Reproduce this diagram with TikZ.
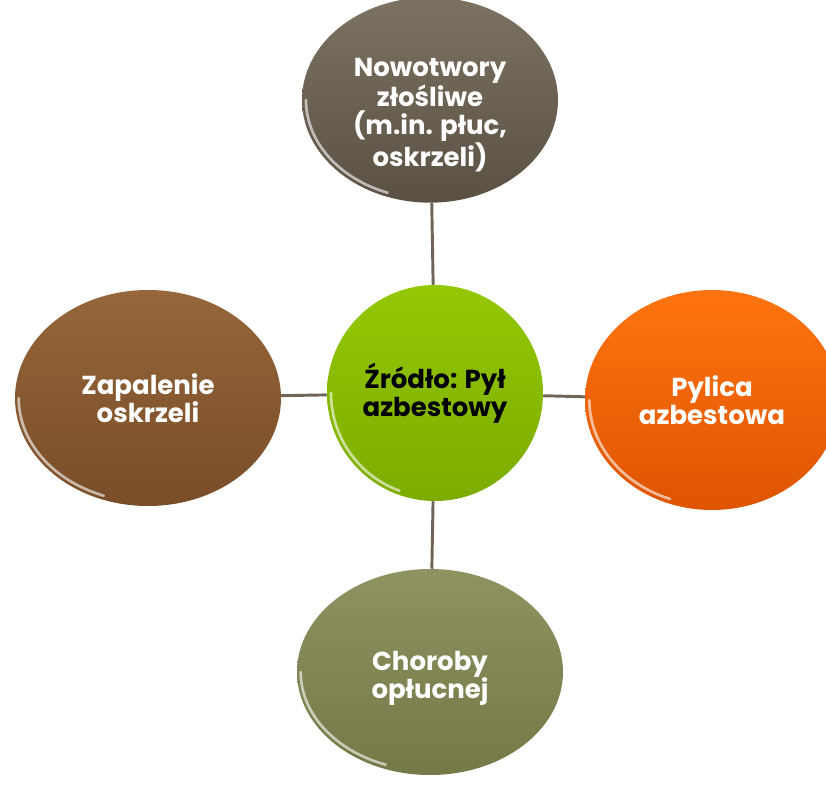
\documentclass[tikz,border=0pt]{standalone}
\usepackage{fontspec}
\setmainfont{Poppins}
\usepackage{tikz}
\usetikzlibrary{shapes.geometric, positioning}

\definecolor{linkgray}{HTML}{6E6558}

\begin{document}
\begin{tikzpicture}[x=0.75pt, y=-0.75pt,
    bubble/.style={ellipse, inner sep=0pt, align=center, text=white,
        font=\fontsize{19.5}{21}\selectfont\bfseries},
    link/.style={draw=linkgray, line width=2.2pt}]
    \useasboundingbox (0,0) rectangle (826,785);
    \clip (0,0) rectangle (826,785);

    % outer bubbles
    \node[bubble, minimum width=192pt, minimum height=154pt,
        top color={rgb,255:red,123;green,114;blue,98}, bottom color={rgb,255:red,90;green,81;blue,68}]
        (nowotwory) at (430,100) {};
    \node[bubble, minimum width=199.5pt, minimum height=162pt,
        top color={rgb,255:red,150;green,102;blue,58}, bottom color={rgb,255:red,120;green,77;blue,40}]
        (zapalenie) at (148,398) {Zapalenie\\oskrzeli};
    \node[bubble, minimum width=190.5pt, minimum height=165pt,
        top color={rgb,255:red,255;green,116;blue,16}, bottom color={rgb,255:red,222;green,84;blue,0}]
        (pylica) at (712,400) {Pylica\\azbestowa};
    \node[bubble, minimum width=199.5pt, minimum height=154.5pt,
        top color={rgb,255:red,143;green,146;blue,97}, bottom color={rgb,255:red,116;green,121;blue,71}]
        (choroby) at (430,672) {};

    % texts sit a little low in two bubbles
    \node[bubble] (nowotwory-text) at ([yshift=-11pt]nowotwory.center) {Nowotwory\\złośliwe\\(m.in. płuc,\\oskrzeli)};
    \node[bubble] (choroby-text) at ([yshift=-5pt]choroby.center) {Choroby\\opłucnej};

    % centre
    \node[bubble, minimum size=162pt, text=black,
        top color={rgb,255:red,148;green,200;blue,4}, bottom color={rgb,255:red,124;green,172;blue,0}]
        (zrodlo) at (435,393) {Źródło: Pył\\azbestowy};

    % connectors
    \draw[link] (zrodlo) -- (nowotwory);
    \draw[link] (zrodlo) -- (zapalenie);
    \draw[link] (zrodlo) -- (pylica);
    \draw[link] (zrodlo) -- (choroby);

    % glossy rims
    \foreach \n/\a/\b in {nowotwory/93/74, zapalenie/97/78, pylica/92/79, choroby/97/74, zrodlo/78/78}
        \draw[white, opacity=0.6, line width=2pt, line cap=round]
            (\n.center) ++(180:\a pt and \b pt) arc[start angle=180, end angle=250, x radius=\a pt, y radius=\b pt];
\end{tikzpicture}
\end{document}
